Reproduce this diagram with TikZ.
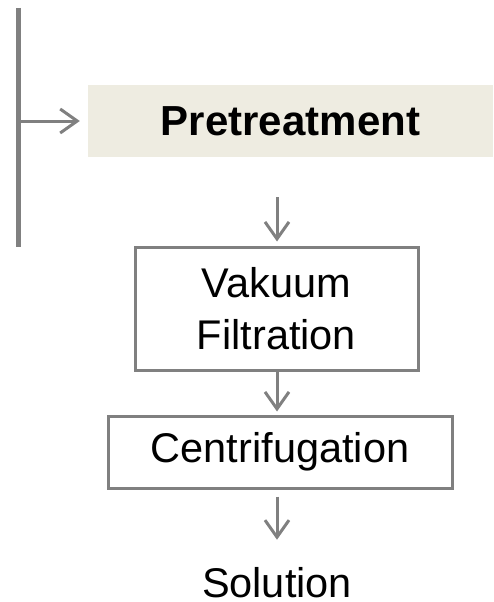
\documentclass[tikz,border=0pt]{standalone}
\usepackage{fontspec}
\setmainfont{Liberation Sans}
\usetikzlibrary{arrows.meta}
\definecolor{linegray}{RGB}{128,128,128}
\definecolor{prefill}{RGB}{238,236,225}
\begin{document}
\begin{tikzpicture}[x=1pt,y=-1pt,
		flow/.style={draw=linegray,line width=3pt,-{Straight Barb[length=17pt,width=24pt]}},
		step box/.style={rectangle,draw=linegray,line width=3pt,inner sep=0pt,
			align=center,font=\fontsize{41.5}{52}\selectfont},
		main box/.style={rectangle,fill=prefill,inner sep=0pt,
			font=\fontsize{42}{50}\selectfont\bfseries}]
		\useasboundingbox (0,0) rectangle (493,602);
		
		\node[main box,minimum width=405pt,minimum height=72pt] (pre) at (290.5,121) {Pretreatment};
		\node[step box,minimum width=283pt,minimum height=123pt] (vak) at (276.5,308.5) {Vakuum\\Filtration};
		\node[step box,minimum width=344pt,minimum height=72pt] (cen) at (280,452) {Centrifugation};
		\node[inner sep=0pt,anchor=base,font=\fontsize{41.5}{50}\selectfont] (sol) at (277,597) {Solution};
		
		% side bar
		\coordinate (bartop) at (18,8);
		\coordinate (barbot) at (18,247);
		\coordinate (a1) at (277,197);
		\draw[linegray,line width=5pt] (bartop) -- (barbot);
		
		\draw[flow,shorten >=8pt] (bartop |- pre.west) -- (pre.west);
		\draw[flow,shorten >=4pt] (a1) -- (a1 |- vak.north);
		\draw[flow,shorten >=3pt] (a1 |- vak.south) -- (a1 |- cen.north);
		\draw[flow,shorten <=7pt,shorten >=27pt] (a1 |- cen.south) -- (sol.north);
		\end{tikzpicture}
\end{document}
